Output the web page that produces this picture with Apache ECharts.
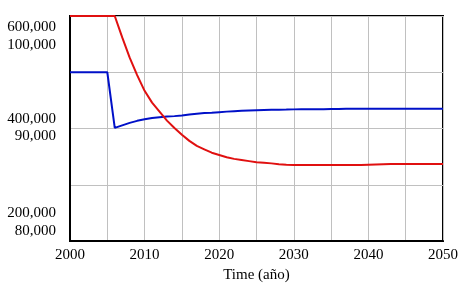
<!DOCTYPE html>
<html>
<head>
<meta charset="utf-8">
<script src="https://cdn.jsdelivr.net/npm/echarts@6/dist/echarts.min.js"></script>
<style>
html,body{margin:0;padding:0;background:#fff;}
#chart{width:465px;height:289px;}
</style>
</head>
<body>
<div id="chart"></div>
<script>
// ---- data ----
var years = [];
for (var y = 2000; y <= 2050; y++) years.push(y);

var redValues = [
  600000, 600000, 600000, 600000, 600000, 600000, 600000, // 2000-2006
  562000, 526000, 495000, 467000, 446000, 430000, 414000, 401000, // 2007-2014
  389000, 378000, 369000, 363000, 357000, 353000, 349000, 346000, // 2015-2022
  344000, 342000, 340000, 339000, 338000, 336500, 335500, // 2023-2029
  335000, 335000, 335000, 335000, 335000, 335000, 335000, 335000, 335000, 335000, // 2030-2039
  335500, 336000, 336500, 337000, 337000, 337000, 337000, 337000, 337000, 337000, 337000 // 2040-2050
];

var blueValues = [
  95000, 95000, 95000, 95000, 95000, 95000, // 2000-2005
  90060, 90280, 90500, 90680, 90820, 90940, 91010, 91060, 91100, // 2006-2014
  91150, 91250, 91320, 91370, 91400, 91450, 91500, 91540, 91580, // 2015-2023
  91600, 91620, 91640, 91660, 91670, 91680, // 2024-2029
  91700, 91705, 91710, 91715, 91720, 91725, 91730, // 2030-2036
  91760, 91760, 91760, 91760, 91760, 91760, 91760, 91760, 91760, 91760, 91760, 91760, 91760, 91760 // 2037-2050
];

var redAxisLabels = { 600000: '600,000', 400000: '400,000', 200000: '200,000' };
var blueAxisLabels = { 100000: '100,000', 90000: '90,000', 80000: '80,000' };
var xAxisTitle = 'Time (año)';

function pairs(xs, vs) {
  var out = [];
  for (var i = 0; i < xs.length; i++) out.push([xs[i], vs[i]]);
  return out;
}

var FONT = '"Liberation Serif", "Times New Roman", serif';
var richBase = { fontFamily: FONT, fontSize: 15, color: '#000' };
function rs(pad) { return Object.assign({ padding: pad }, richBase); }

var chart = echarts.init(document.getElementById('chart'), null, { renderer: 'canvas' });
chart.setOption({
  animation: false,
  backgroundColor: '#fff',
  grid: {
    left: 70, right: 22, top: 16, bottom: 48,
    show: true, borderColor: '#000', borderWidth: 2, backgroundColor: 'transparent',
    containLabel: false, outerBoundsMode: 'none'
  },
  xAxis: {
    type: 'value', min: 2000, max: 2050, interval: 5,
    axisLine: { show: true, lineStyle: { color: '#000', width: 2 } },
    axisTick: { show: false },
    splitLine: { show: true, lineStyle: { color: '#c0c0c0', width: 1 } },
    axisLabel: {
      color: '#000', fontFamily: FONT, fontSize: 15, margin: 7,
      formatter: function (v) { return v % 10 === 0 ? String(v) : ''; }
    },
    name: xAxisTitle, nameLocation: 'middle', nameGap: 25,
    nameTextStyle: { color: '#000', fontFamily: FONT, fontSize: 15 }
  },
  yAxis: [
    {
      type: 'value', position: 'left', min: 200000, max: 600000, interval: 100000,
      axisLine: { show: true, lineStyle: { color: '#000', width: 2 } },
      axisTick: { show: false },
      splitLine: { show: true, lineStyle: { color: '#c0c0c0', width: 1 } },
      axisLabel: {
        margin: 14, color: '#000', fontFamily: FONT, fontSize: 15,
        formatter: function (v) {
          if (v === 600000) return '{t|' + redAxisLabels[v] + '}';
          if (v === 400000) return '{m|' + redAxisLabels[v] + '}';
          if (v === 200000) return '{b|' + redAxisLabels[v] + '}';
          return '';
        },
        rich: { t: rs([22, 0, 0, 0]), m: rs([0, 0, 18, 0]), b: rs([0, 0, 56, 0]) }
      }
    },
    {
      type: 'value', position: 'left', offset: 0, min: 80000, max: 100000, interval: 5000,
      axisLine: { show: false },
      axisTick: { show: false },
      splitLine: { show: false },
      axisLabel: {
        margin: 14, color: '#000', fontFamily: FONT, fontSize: 15,
        formatter: function (v) {
          if (v === 100000) return '{t|' + blueAxisLabels[v] + '}';
          if (v === 90000) return '{m|' + blueAxisLabels[v] + '}';
          if (v === 80000) return '{b|' + blueAxisLabels[v] + '}';
          return '';
        },
        rich: { t: rs([58, 0, 0, 0]), m: rs([16, 0, 0, 0]), b: rs([0, 0, 19, 0]) }
      }
    }
  ],
  series: [
    {
      type: 'line', yAxisIndex: 1, data: pairs(years, blueValues),
      showSymbol: false, symbol: 'none', clip: false, smooth: false,
      lineStyle: { color: '#0010c8', width: 2 }, z: 3
    },
    {
      type: 'line', yAxisIndex: 0, data: pairs(years, redValues),
      showSymbol: false, symbol: 'none', clip: false, smooth: false,
      lineStyle: { color: '#e01010', width: 2 }, z: 4
    }
  ]
});
</script>
</body>
</html>
